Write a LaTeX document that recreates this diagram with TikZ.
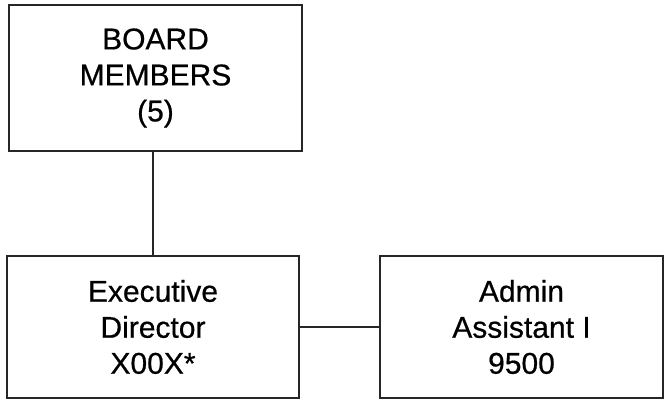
\documentclass[tikz,border=0pt]{standalone}
\usepackage{fontspec}
\setmainfont{Liberation Sans}[FakeBold=0.6]
\begin{document}
\begin{tikzpicture}[x=1pt,y=1pt,
  orgbox/.style={draw=black!85, line width=1.4pt, rectangle, align=center,
    font=\fontsize{30}{36}\selectfont, inner sep=0pt},
  link/.style={draw=black!85, line width=1.4pt}]
  \useasboundingbox (0,0) rectangle (667,402);
  \node[orgbox, minimum width=293pt, minimum height=146pt] (board) at (155.5,324) {BOARD\\MEMBERS\\(5)};
  \node[orgbox, minimum width=292pt, minimum height=142pt] (exec) at (153,75) {Executive\\Director\\X00X*};
  \node[orgbox, minimum width=283pt, minimum height=142pt] (admin) at (521.5,75) {Admin\\Assistant I\\9500};
  \draw[link] (exec.north) -- (exec.north |- board.south);
  \draw[link] (exec.east) -- (admin.west);
\end{tikzpicture}
\end{document}
